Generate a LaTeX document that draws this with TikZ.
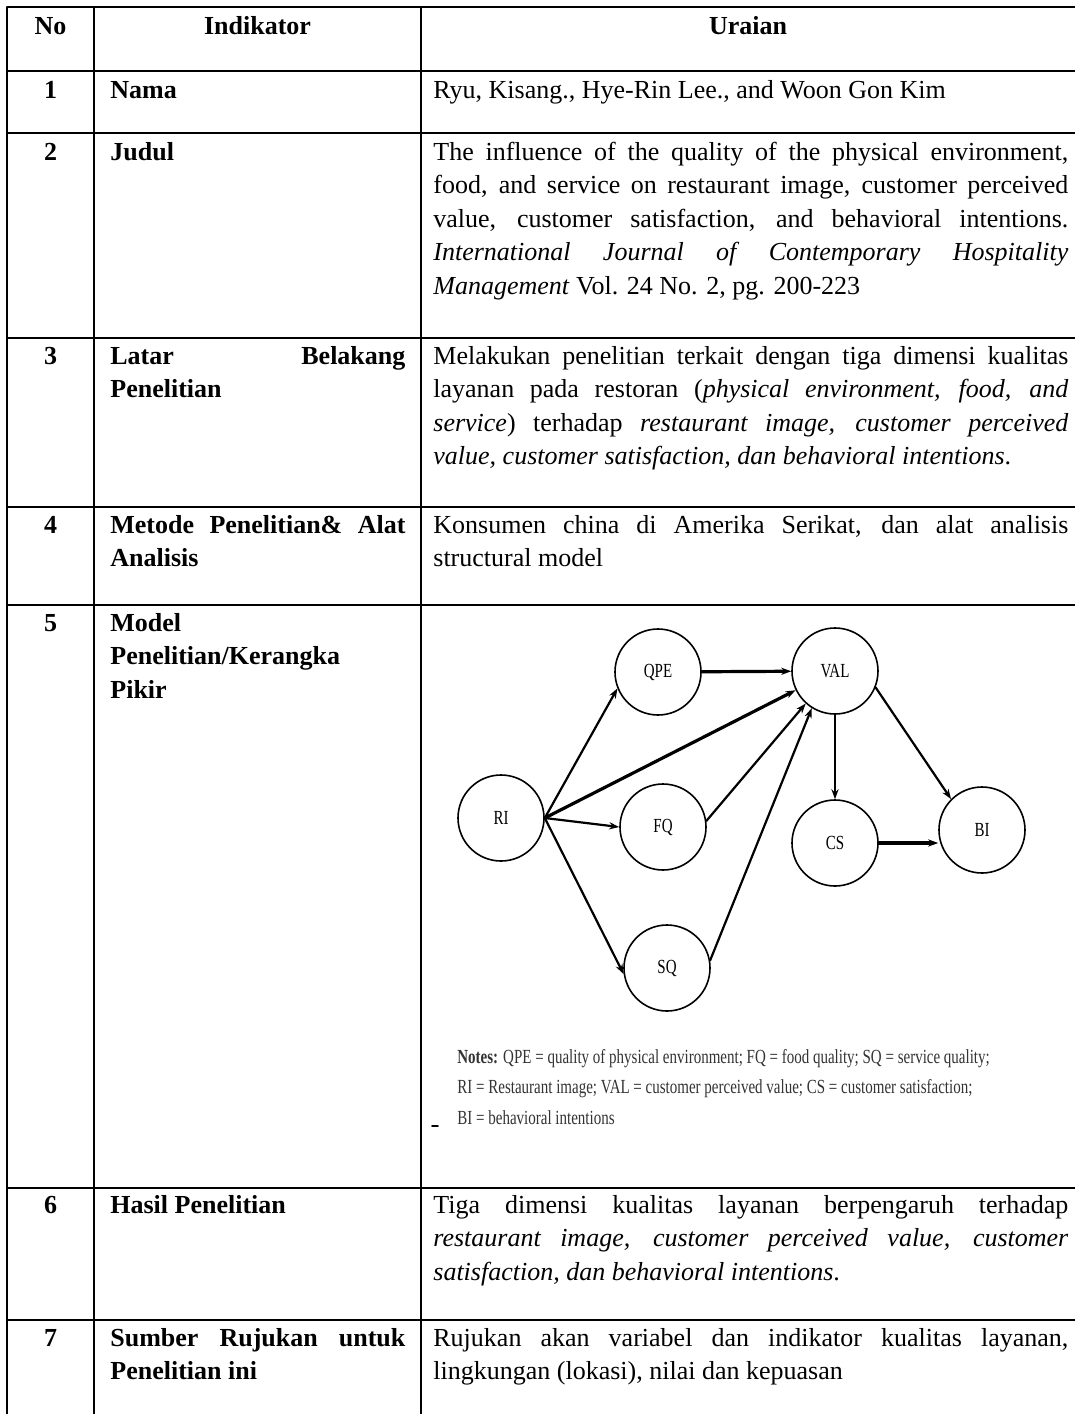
\documentclass[tikz,border=0pt]{standalone}
\usepackage{fontspec}
\setmainfont{Liberation Serif}
\newfontfamily\diagfont[FakeStretch=0.75]{Liberation Serif}
\usetikzlibrary{arrows.meta}
\newcommand{\tabfont}{\fontsize{13}{16.75}\selectfont}

\begin{document}
\begin{tikzpicture}[x=0.5pt, y=-0.5pt, line join=round, line cap=round, >={Stealth[length=5pt,width=3.6pt]},
    grid/.style={line width=0.75pt},
    hdr/.style={anchor=base, inner sep=0pt, font=\tabfont\bfseries},
    ind/.style={anchor=base west, inner sep=0pt, text width=147.5pt, align=justify, font=\tabfont\bfseries},
    txt/.style={anchor=base west, inner sep=0pt, text width=317.5pt, align=justify, font=\tabfont},
    var/.style={circle, draw, line width=0.8pt, minimum size=43pt, inner sep=0pt, font=\diagfont\fontsize{10}{12}\selectfont},
    path/.style={->, line width=1.1pt},
    mainpath/.style={->, line width=1.6pt}]
    \def\xl{7}\def\xa{94}\def\xb{421}\def\xr{1075}
    \useasboundingbox (0,0) rectangle (1075,1414);
    % table rules
    \foreach \y in {7,71,133,338,507,605,1188,1320}\draw[grid] (\xl,\y)--(\xr,\y);
    \foreach \x in {\xl,\xa,\xb}\draw[grid] (\x,7)--(\x,1414);
    % header
    \node[hdr] (hNo) at (50.5,34) {No};
    \node[hdr] (hInd) at (257.5,34) {Indikator};
    \node[hdr] (hUr) at (748,34) {Uraian};
    \foreach \n/\y in {1/98,2/160,3/364,4/533,5/631,6/1213,7/1346}\node[hdr] (no\n) at (50.5,\y) {\n};
    % indikator
    \node[ind] (iNama) at (110,98) {Nama};
    \node[ind] (iJudul) at (110,160) {Judul};
    \node[ind] (iLatar) at (110,364) {Latar Belakang\linebreak Penelitian};
    \node[ind] (iMetode) at (110,533) {Metode Penelitian\& Alat\linebreak Analisis};
    \node[ind, align=left] (iModel) at (110,631) {Model\\Penelitian/Kerangka\\Pikir};
    \node[ind] (iHasil) at (110,1213) {Hasil Penelitian};
    \node[ind] (iSumber) at (110,1346) {Sumber Rujukan untuk\linebreak Penelitian ini};
    % uraian
    \node[txt] (uNama) at (433,98) {Ryu, Kisang., Hye-Rin Lee., and Woon Gon Kim};
    \node[txt] (uJudul) at (433,160) {The influence of the quality of the physical environment,\linebreak
        food, and service on restaurant image, customer perceived\linebreak
        value, customer satisfaction, and behavioral intentions.\linebreak
        \textit{International Journal of Contemporary Hospitality}\linebreak
        \textit{Management} Vol. 24 No. 2, pg. 200-223};
    \node[txt] (uLatar) at (433,364) {Melakukan penelitian terkait dengan tiga dimensi kualitas\linebreak
        layanan pada restoran (\textit{physical environment, food, and}\linebreak
        \textit{service}) terhadap \textit{restaurant image, customer perceived}\linebreak
        \textit{value, customer satisfaction, dan behavioral intentions}.};
    \node[txt] (uMetode) at (433,533) {Konsumen china di Amerika Serikat, dan alat analisis\linebreak structural model};
    \node[txt] (uHasil) at (433,1213) {Tiga dimensi kualitas layanan berpengaruh terhadap\linebreak
        \textit{restaurant image, customer perceived value, customer}\linebreak
        \textit{satisfaction, dan behavioral intentions}.};
    \node[txt] (uSumber) at (433,1346) {Rujukan akan variabel dan indikator kualitas layanan,\linebreak lingkungan (lokasi), nilai dan kepuasan};
    % model penelitian
    \node[var] (RI) at (501,818) {RI};
    \node[var] (QPE) at (658,672) {QPE};
    \node[var] (FQ) at (663,827) {FQ};
    \node[var] (SQ) at (667,968) {SQ};
    \node[var] (VAL) at (835,671) {VAL};
    \node[var] (CS) at (835,843) {CS};
    \node[var] (BI) at (982,830) {BI};
    \draw[path] (RI.east) -- (QPE.202);
    \draw[mainpath] (RI.east) -- (VAL.206);
    \draw[path] (RI.east) -- (FQ.west);
    \draw[path] (RI.east) -- (SQ.188);
    \draw[mainpath] (QPE) -- (VAL);
    \draw[path] (FQ.8) -- (VAL.228);
    \draw[path] (SQ.10) -- (VAL.238);
    \draw[path] (VAL.south) -- (CS.north);
    \draw[path] (VAL.338) -- (BI.135);
    \draw[mainpath] (CS.east) -- (CS.east -| BI.west);
    % notes (base = last line)
    \node[anchor=base west, inner sep=0pt, align=left, text=black!80, font=\diagfont\fontsize{10}{15.25}\selectfont] (notes) at (457,1124)
        {\textbf{Notes:} QPE = quality of physical environment; FQ = food quality; SQ = service quality;\\
        RI = Restaurant image; VAL = customer perceived value; CS = customer satisfaction;\\
        BI = behavioral intentions};
    \draw[line width=0.8pt] (432,1126)--(438,1126);
\end{tikzpicture}
\end{document}
